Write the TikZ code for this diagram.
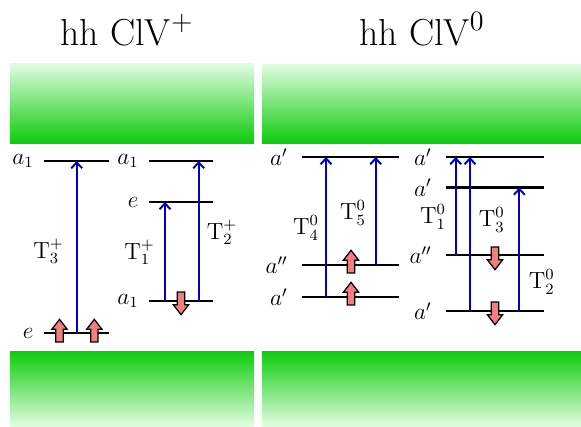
\documentclass[tikz,border=0pt]{standalone}
\usetikzlibrary{shapes.arrows,arrows.meta}
\definecolor{trblue}{RGB}{0,0,200}
\definecolor{spinred}{RGB}{240,128,128}
\definecolor{bandgreen}{RGB}{12,204,12}
\definecolor{bandpale}{RGB}{226,253,226}
\tikzset{
  level/.style={line width=1.2pt},
  trans/.style={draw=trblue, line width=1pt, -{Straight Barb[length=3pt,width=5.6pt]}},
  spinup/.style={single arrow, draw=black, fill=spinred, line width=0.65pt,
    inner sep=1.55pt, single arrow head extend=2pt, single arrow tip angle=75,
    minimum height=11.6pt, minimum width=0pt, rotate=90},
  spindown/.style={spinup, rotate=180},
  lab/.style={anchor=east, inner sep=0pt, font=\fontsize{11.5}{14}\selectfont},
  tlab/.style={inner sep=0pt, font=\fontsize{11.5}{14}\selectfont},
  title/.style={anchor=base, inner sep=0pt, font=\fontsize{19.3}{23}\selectfont}
}
\begin{document}
\begin{tikzpicture}[x=0.5128pt, y=-0.5128pt]
\useasboundingbox (0,0) rectangle (581,426);
% bands
\shade[top color=bandpale, bottom color=bandgreen] (10,63) rectangle (254,143);
\shade[top color=bandpale, bottom color=bandgreen] (262,64) rectangle (581,143);
\shade[top color=bandgreen, bottom color=bandpale] (10,351) rectangle (254,426);
\shade[top color=bandgreen, bottom color=bandpale] (262,351) rectangle (581,426);
% titles
\node[title] (tl) at (127,45.5) {hh ClV$^+$};
\node[title] (tr) at (422,45.5) {hh ClV$^0$};
% ---------- left panel ----------
\coordinate (pa1L) at (44,161);  \coordinate (pa1R) at (109,161);
\coordinate (peL) at (44,333);   \coordinate (peR) at (109,333);
\coordinate (qa1L) at (149,161); \coordinate (qa1R) at (213,161);
\coordinate (qeL) at (149,202);  \coordinate (qeR) at (213,202);
\coordinate (qbL) at (149,301);  \coordinate (qbR) at (213,301);
\draw[level] (pa1L) -- (pa1R);
\draw[level] (peL) -- (peR);
\draw[level] (qa1L) -- (qa1R);
\draw[level] (qeL) -- (qeR);
\draw[level] (qbL) -- (qbR);
\node[lab] (lpa1) at (34,161) {$a_1$};
\node[lab] (lpe) at (34,333) {$e$};
\node[lab] (lqa1) at (139,161) {$a_1$};
\node[lab] (lqe) at (139,202) {$e$};
\node[lab] (lqb) at (139,301) {$a_1$};
% transitions
\coordinate (t3s) at (76.7,333); \coordinate (t3e) at (76.7,161);
\coordinate (t1s) at (165,301);  \coordinate (t1e) at (165,202);
\coordinate (t2s) at (198.7,301); \coordinate (t2e) at (198.7,161);
\draw[trans] (t3s) -- (t3e);
\draw[trans] (t1s) -- (t1e);
\draw[trans] (t2s) -- (t2e);
\node[tlab] (T3p) at (48.5,251) {$\mathrm{T}_3^+$};
\node[tlab] (T1p) at (139.5,252) {$\mathrm{T}_1^+$};
\node[tlab] (T2p) at (222,232) {$\mathrm{T}_2^+$};
% spins
\node[spinup] (s1) at (59.5,333) {};
\node[spinup] (s2) at (94.3,333) {};
\node[spindown] (s3) at (181,301) {};
% ---------- right panel ----------
\coordinate (ra1L) at (302,157);  \coordinate (ra1R) at (399,157);
\coordinate (ra2L) at (302,265);  \coordinate (ra2R) at (399,265);
\coordinate (ra3L) at (302,297);  \coordinate (ra3R) at (399,297);
\coordinate (sa1L) at (446,157);  \coordinate (sa1R) at (544,157);
\coordinate (sa2L) at (446,187.5);\coordinate (sa2R) at (544,187.5);
\coordinate (sa3L) at (446,255);  \coordinate (sa3R) at (544,255);
\coordinate (sa4L) at (446,311);  \coordinate (sa4R) at (544,311);
\draw[level] (ra1L) -- (ra1R);
\draw[level] (ra2L) -- (ra2R);
\draw[level] (ra3L) -- (ra3R);
\draw[level] (sa1L) -- (sa1R);
\draw[level] (sa2L) -- (sa2R);
\draw[level] (sa3L) -- (sa3R);
\draw[level] (sa4L) -- (sa4R);
\node[lab] (lra1) at (288,157) {$a'$};
\node[lab] (lra2) at (288,265) {$a''$};
\node[lab] (lra3) at (288,297) {$a'$};
\node[lab] (lsa1) at (432,157) {$a'$};
\node[lab] (lsa2) at (432,187.5) {$a'$};
\node[lab] (lsa3) at (432,255) {$a''$};
\node[lab] (lsa4) at (432,311) {$a'$};
% transitions
\coordinate (u4s) at (326,297);   \coordinate (u4e) at (326,157);
\coordinate (u5s) at (375.7,265); \coordinate (u5e) at (375.7,157);
\coordinate (u1s) at (455.7,255); \coordinate (u1e) at (455.7,157);
\coordinate (u3s) at (470,311);   \coordinate (u3e) at (470,157);
\coordinate (u2s) at (519.3,311); \coordinate (u2e) at (519.3,187.5);
\draw[trans] (u4s) -- (u4e);
\draw[trans] (u5s) -- (u5e);
\draw[trans] (u1s) -- (u1e);
\draw[trans] (u3s) -- (u3e);
\draw[trans] (u2s) -- (u2e);
\node[tlab] (T4z) at (306,228) {$\mathrm{T}_4^0$};
\node[tlab] (T5z) at (353,213) {$\mathrm{T}_5^0$};
\node[tlab] (T1z) at (433,217) {$\mathrm{T}_1^0$};
\node[tlab] (T3z) at (491.7,220) {$\mathrm{T}_3^0$};
\node[tlab] (T2z) at (541.7,282) {$\mathrm{T}_2^0$};
% spins
\node[spinup] (s4) at (351,264) {};
\node[spinup] (s5) at (351,296) {};
\node[spindown] (s6) at (495,256) {};
\node[spindown] (s7) at (495,311) {};
\end{tikzpicture}
\end{document}
